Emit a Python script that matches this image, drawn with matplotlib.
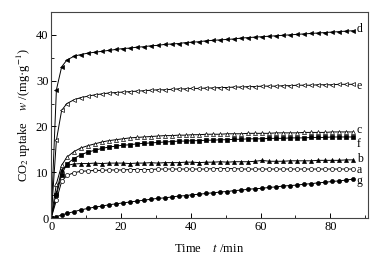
import matplotlib
matplotlib.use("Agg")
import matplotlib.pyplot as plt
from matplotlib.ticker import MultipleLocator

plt.rcParams.update({
    'font.family': ['Liberation Serif', 'DejaVu Serif'],
    'mathtext.fontset': 'stix',
    'font.size': 9,
})

# time points (min)
t = [0, 1.5, 3, 4.5, 6.5, 8.5, 10.5, 12.5, 14.5, 16.5, 18.5, 20.5, 22.5, 24.5,
     26.5, 28.5, 30.5, 32.5, 34.5, 36.5, 38.5, 40.5, 42.5, 44.5, 46.5, 48.5,
     50.5, 52.5, 54.5, 56.5, 58.5, 60.5, 62.5, 64.5, 66.5, 68.5, 70.5, 72.5,
     74.5, 76.5, 78.5, 80.5, 82.5, 84.5, 86.5]

# CO2 uptake (mg/g) per sample
d = [0, 28, 33, 34.5, 35.3, 35.7, 36.0, 36.2, 36.4, 36.6, 36.8, 37.0, 37.1, 37.3,
     37.4, 37.6, 37.7, 37.9, 38.0, 38.1, 38.3, 38.4, 38.5, 38.7, 38.8, 38.9,
     39.0, 39.1, 39.3, 39.4, 39.5, 39.6, 39.7, 39.8, 39.9, 40.0, 40.1, 40.2,
     40.3, 40.4, 40.5, 40.6, 40.7, 40.8, 40.9]
e = [0, 17, 23.5, 25.0, 25.8, 26.3, 26.6, 26.9, 27.1, 27.3, 27.4, 27.5, 27.6, 27.7,
     27.8, 27.9, 28.0, 28.0, 28.1, 28.2, 28.2, 28.3, 28.3, 28.4, 28.4, 28.5,
     28.5, 28.6, 28.6, 28.7, 28.7, 28.8, 28.8, 28.8, 28.9, 28.9, 29.0, 29.0,
     29.0, 29.1, 29.1, 29.1, 29.2, 29.2, 29.2]
c = [0, 7.5, 11.5, 13.3, 14.5, 15.3, 15.8, 16.2, 16.6, 16.9, 17.1, 17.3, 17.5, 17.6,
     17.7, 17.8, 17.9, 18.0, 18.0, 18.1, 18.1, 18.2, 18.2, 18.3, 18.3, 18.3,
     18.4, 18.4, 18.4, 18.5, 18.5, 18.5, 18.5, 18.6, 18.6, 18.6, 18.6, 18.7,
     18.7, 18.7, 18.7, 18.8, 18.8, 18.8, 18.8]
f = [0, 5.0, 9.5, 11.8, 13.0, 13.8, 14.4, 14.8, 15.2, 15.5, 15.7, 15.9, 16.0, 16.2,
     16.3, 16.4, 16.5, 16.6, 16.7, 16.8, 16.8, 16.9, 16.9, 17.0, 17.0, 17.1,
     17.1, 17.2, 17.2, 17.3, 17.3, 17.3, 17.4, 17.4, 17.4, 17.5, 17.5, 17.5,
     17.6, 17.6, 17.6, 17.7, 17.7, 17.7, 17.7]
b = [0, 5.5, 10.5, 11.5, 11.8, 11.9, 11.9, 12.0, 11.9, 12.0, 12.0, 12.0, 11.9, 12.0,
     12.0, 12.1, 12.0, 12.1, 12.1, 12.1, 12.2, 12.2, 12.1, 12.2, 12.2, 12.3,
     12.2, 12.3, 12.3, 12.3, 12.4, 12.6, 12.4, 12.4, 12.4, 12.5, 12.5, 12.5,
     12.5, 12.6, 12.6, 12.6, 12.6, 12.7, 12.7]
a = [0, 3.9, 8.0, 9.3, 9.9, 10.2, 10.3, 10.4, 10.4, 10.5, 10.5, 10.5, 10.6, 10.6,
     10.6, 10.6, 10.7, 10.7, 10.7, 10.7, 10.7, 10.7, 10.7, 10.7, 10.8, 10.8,
     10.8, 10.8, 10.7, 10.7, 10.7, 10.7, 10.7, 10.7, 10.7, 10.7, 10.7, 10.7,
     10.7, 10.7, 10.7, 10.7, 10.7, 10.7, 10.7]
g = [0, 0.3, 0.7, 1.0, 1.4, 1.8, 2.1, 2.4, 2.6, 2.9, 3.1, 3.3, 3.5, 3.7,
     3.9, 4.1, 4.3, 4.4, 4.6, 4.8, 4.9, 5.1, 5.2, 5.4, 5.5, 5.7,
     5.8, 6.0, 6.1, 6.3, 6.4, 6.5, 6.7, 6.8, 7.0, 7.1, 7.2, 7.4,
     7.5, 7.7, 7.8, 8.0, 8.1, 8.3, 8.5]

series = [
    ('d', d, '<', 'k'),
    ('e', e, '<', 'white'),
    ('c', c, '^', 'white'),
    ('f', f, 's', 'k'),
    ('b', b, '^', 'k'),
    ('a', a, 'o', 'white'),
    ('g', g, 'o', 'k'),
]
label_y = {'d': 41.2, 'e': 28.8, 'c': 19.2, 'f': 16.1, 'b': 13.0, 'a': 10.6, 'g': 8.1}

fig = plt.figure(figsize=(3.79, 2.59), dpi=100)
ax = fig.add_axes([0.135, 0.158, 0.836, 0.796])

for name, vals, mk, fc in series:
    ax.plot(t, vals, color='k', lw=0.7, marker=mk, ms=2.9,
            mfc=fc, mec='k', mew=0.5)
    ax.text(87.6, label_y[name], name, ha='left', va='center', fontsize=8.5)

ax.set_xlim(0, 90.8)
ax.set_ylim(0, 45)
ax.xaxis.set_major_locator(MultipleLocator(20))
ax.xaxis.set_minor_locator(MultipleLocator(10))
ax.yaxis.set_major_locator(MultipleLocator(10))
ax.yaxis.set_minor_locator(MultipleLocator(5))
ax.tick_params(which='both', direction='in', top=False, right=False, labelsize=9, pad=2)
ax.tick_params(which='major', length=3.5, width=0.7)
ax.tick_params(which='minor', length=2, width=0.6)
for sp in ax.spines.values():
    sp.set_color('#444444')
    sp.set_linewidth(0.8)

ax.set_xlabel('Time    $t$ /min', fontsize=9, labelpad=7)
ax.set_ylabel('CO$_2$ uptake    $w$ /(mg·g$^{-1}$)', fontsize=9, labelpad=2)

fig.savefig('out.png', dpi=100, facecolor='white')
